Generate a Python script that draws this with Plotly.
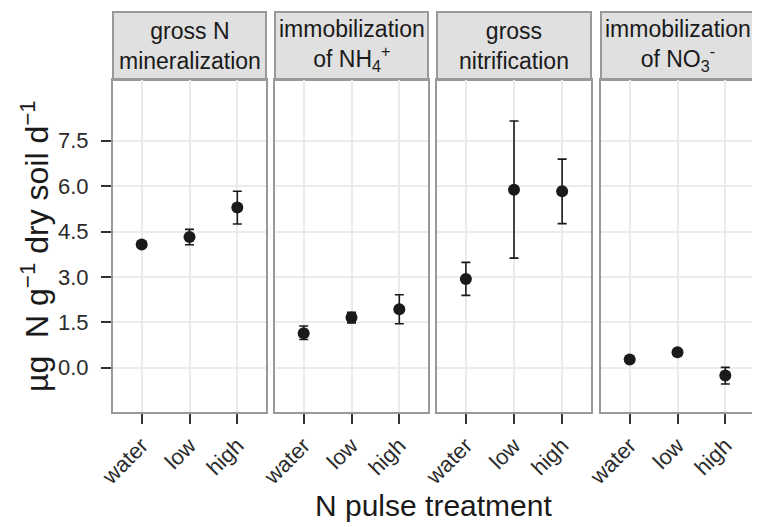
import plotly.graph_objects as go

categories = ["water", "low", "high"]
panel_titles = [
    "gross N<br>mineralization",
    "immobilization<br>of NH<sub>4</sub><sup>+</sup>",
    "gross<br>nitrification",
    "immobilization<br>of NO<sub>3</sub><sup>-</sup>",
]
mineralization_mean = [4.07, 4.32, 5.29]
mineralization_upper = [4.15, 4.57, 5.83]
mineralization_lower = [3.99, 4.06, 4.75]
nh4_mean = [1.14, 1.66, 1.93]
nh4_upper = [1.38, 1.83, 2.41]
nh4_lower = [0.93, 1.48, 1.45]
nitrification_mean = [2.93, 5.88, 5.83]
nitrification_upper = [3.48, 8.15, 6.89]
nitrification_lower = [2.39, 3.62, 4.76]
no3_mean = [0.27, 0.51, -0.26]
no3_upper = [0.32, 0.62, 0.01]
no3_lower = [0.22, 0.40, -0.54]
y_ticks = [0.0, 1.5, 3.0, 4.5, 6.0, 7.5]

series = [
    (mineralization_mean, mineralization_upper, mineralization_lower),
    (nh4_mean, nh4_upper, nh4_lower),
    (nitrification_mean, nitrification_upper, nitrification_lower),
    (no3_mean, no3_upper, no3_lower),
]

# the page body has an 8px margin, so the figure is drawn 8px in from the corner
W, H = 752, 519
ML, MR, MT, MB = 105, 6, 4, 115
PW = W - ML - MR
PH = H - MT - MB
panel_px = [(0, 153), (162, 315), (324, 478), (488, 641)]
domains = [[a / PW, b / PW] for a, b in panel_px]
ytop = (404 - 72) / PH

FONT = "Liberation Sans, Arial, sans-serif"
fig = go.Figure()
border = "#999999"
dark = "#1a1a1a"
grid = "#ebebeb"

for i, (m, up, lo) in enumerate(series):
    n = i + 1
    fig.add_trace(go.Scatter(
        x=categories, y=m, mode="markers",
        marker=dict(size=12, color=dark),
        error_y=dict(type="data", symmetric=False,
                     array=[u - v for u, v in zip(up, m)],
                     arrayminus=[v - l for v, l in zip(m, lo)],
                     color=dark, thickness=1.6, width=4.5),
        xaxis=f"x{n}" if n > 1 else "x", yaxis=f"y{n}" if n > 1 else "y",
        showlegend=False, hoverinfo="skip",
    ))
    xa = dict(domain=domains[i], type="category", range=[-0.6, 2.6],
              anchor=f"y{n}" if n > 1 else "y",
              showline=True, linecolor=border, linewidth=2, mirror=True,
              showgrid=True, gridcolor=grid, gridwidth=1.5, zeroline=False,
              ticks="outside", ticklen=10, tickwidth=1.5, tickcolor="#333333",
              tickangle=-45, tickfont=dict(size=22, color="#2b2b2b", family=FONT))
    ya = dict(domain=[0, ytop], range=[-1.463, 9.505],
              anchor=f"x{n}" if n > 1 else "x",
              showline=True, linecolor=border, linewidth=2, mirror=True,
              showgrid=True, gridcolor=grid, gridwidth=1.5, zeroline=False,
              tickvals=y_ticks, tickformat=".1f")
    if n == 1:
        ya.update(ticks="outside", ticklen=10, tickwidth=1.5, tickcolor="#333333",
                  ticklabelstandoff=8,
                  tickfont=dict(size=22, color="#2b2b2b", family=FONT))
    else:
        ya.update(showticklabels=False, ticks="")
    fig.layout[f"xaxis{n}" if n > 1 else "xaxis"] = xa
    fig.layout[f"yaxis{n}" if n > 1 else "yaxis"] = ya

    fig.add_shape(type="rect", xref="paper", yref="paper",
                  x0=domains[i][0], x1=domains[i][1], y0=ytop, y1=1.0,
                  fillcolor="#e0e0e0", line=dict(color=border, width=2), layer="below")
    fig.add_annotation(x=(domains[i][0] + domains[i][1]) / 2, y=(ytop + 1.0) / 2,
                       xref="paper", yref="paper", text=panel_titles[i], showarrow=False,
                       xanchor="center", yanchor="middle",
                       font=dict(size=23, color=dark, family=FONT))

fig.add_annotation(x=0.5, y=(404 - 498) / PH, xref="paper", yref="paper",
                   text="N pulse treatment", showarrow=False, xanchor="center", yanchor="middle",
                   font=dict(size=30, color=dark, family=FONT))
fig.add_annotation(x=(27 - ML) / PW, y=ytop / 2, xref="paper", yref="paper",
                   text="µg  N g<sup>−1</sup> dry soil d<sup>−1</sup>", showarrow=False,
                   textangle=-90, xanchor="center", yanchor="middle",
                   font=dict(size=32, color=dark, family=FONT))

fig.update_layout(width=W, height=H, margin=dict(l=ML, r=MR, t=MT, b=MB),
                  paper_bgcolor="white", plot_bgcolor="white",
                  font=dict(family=FONT))

fig.write_html("out.html")
